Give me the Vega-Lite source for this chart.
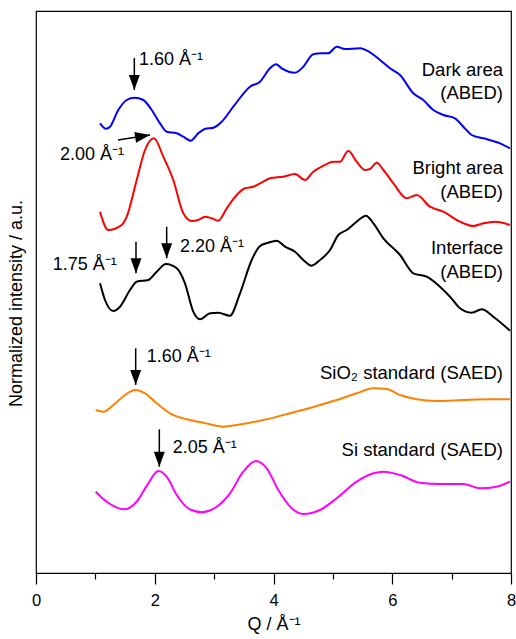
{
  "$schema": "https://vega.github.io/schema/vega-lite/v6.json",
  "width": 475,
  "height": 562,
  "autosize": "none",
  "padding": {"left": 36, "top": 11, "right": 5, "bottom": 66},
  "background": "white",
  "config": {
    "font": "Liberation Sans",
    "view": {"stroke": "black", "strokeWidth": 1.2},
    "axis": {"labelFont": "Liberation Sans", "titleFont": "Liberation Sans", "labelColor": "black", "titleColor": "black", "titleFontWeight": "normal"}
  },
  "datasets": {
    "curves": [
      {"s": "dark", "q": 1.078, "v": 449.7}, {"s": "dark", "q": 1.179, "v": 444.3}, {"s": "dark", "q": 1.246, "v": 446.3}, {"s": "dark", "q": 1.386, "v": 463}, {"s": "dark", "q": 1.528, "v": 473}, {"s": "dark", "q": 1.656, "v": 475.3}, {"s": "dark", "q": 1.807, "v": 473}, {"s": "dark", "q": 1.949, "v": 463}, {"s": "dark", "q": 2.088, "v": 449.7}, {"s": "dark", "q": 2.201, "v": 441.3}, {"s": "dark", "q": 2.37, "v": 439.7}, {"s": "dark", "q": 2.481, "v": 436.3}, {"s": "dark", "q": 2.605, "v": 432.3}, {"s": "dark", "q": 2.733, "v": 439.7}, {"s": "dark", "q": 2.846, "v": 444}, {"s": "dark", "q": 2.986, "v": 445.3}, {"s": "dark", "q": 3.128, "v": 451.3}, {"s": "dark", "q": 3.323, "v": 466.3}, {"s": "dark", "q": 3.604, "v": 486.3}, {"s": "dark", "q": 3.773, "v": 491.3}, {"s": "dark", "q": 3.941, "v": 504.7}, {"s": "dark", "q": 4.042, "v": 508.7}, {"s": "dark", "q": 4.138, "v": 504.7}, {"s": "dark", "q": 4.362, "v": 500.3}, {"s": "dark", "q": 4.502, "v": 506.3}, {"s": "dark", "q": 4.67, "v": 518.7}, {"s": "dark", "q": 4.812, "v": 519.7}, {"s": "dark", "q": 4.923, "v": 519.7}, {"s": "dark", "q": 5.064, "v": 526.3}, {"s": "dark", "q": 5.204, "v": 524}, {"s": "dark", "q": 5.457, "v": 524.7}, {"s": "dark", "q": 5.625, "v": 520.7}, {"s": "dark", "q": 5.794, "v": 513}, {"s": "dark", "q": 5.962, "v": 504.7}, {"s": "dark", "q": 6.131, "v": 498}, {"s": "dark", "q": 6.355, "v": 479.7}, {"s": "dark", "q": 6.523, "v": 473}, {"s": "dark", "q": 6.691, "v": 463}, {"s": "dark", "q": 6.86, "v": 458}, {"s": "dark", "q": 7.057, "v": 454.7}, {"s": "dark", "q": 7.197, "v": 446.3}, {"s": "dark", "q": 7.338, "v": 438}, {"s": "dark", "q": 7.534, "v": 434.7}, {"s": "dark", "q": 7.815, "v": 429.7}, {"s": "dark", "q": 7.983, "v": 424.7},
      {"s": "bright", "q": 1.078, "v": 361.3}, {"s": "bright", "q": 1.218, "v": 343}, {"s": "bright", "q": 1.443, "v": 348}, {"s": "bright", "q": 1.528, "v": 356.3}, {"s": "bright", "q": 1.696, "v": 393}, {"s": "bright", "q": 1.836, "v": 423}, {"s": "bright", "q": 1.987, "v": 434.7}, {"s": "bright", "q": 2.144, "v": 416.3}, {"s": "bright", "q": 2.312, "v": 393}, {"s": "bright", "q": 2.481, "v": 359.7}, {"s": "bright", "q": 2.622, "v": 352}, {"s": "bright", "q": 2.733, "v": 353}, {"s": "bright", "q": 2.846, "v": 356.3}, {"s": "bright", "q": 2.959, "v": 354.7}, {"s": "bright", "q": 3.07, "v": 352.3}, {"s": "bright", "q": 3.212, "v": 364.7}, {"s": "bright", "q": 3.38, "v": 378}, {"s": "bright", "q": 3.52, "v": 384.7}, {"s": "bright", "q": 3.66, "v": 386.3}, {"s": "bright", "q": 3.828, "v": 391.3}, {"s": "bright", "q": 3.941, "v": 394.7}, {"s": "bright", "q": 4.165, "v": 396.3}, {"s": "bright", "q": 4.362, "v": 399}, {"s": "bright", "q": 4.531, "v": 393}, {"s": "bright", "q": 4.67, "v": 401.3}, {"s": "bright", "q": 4.839, "v": 407.3}, {"s": "bright", "q": 5.007, "v": 411.3}, {"s": "bright", "q": 5.12, "v": 411.3}, {"s": "bright", "q": 5.26, "v": 422.3}, {"s": "bright", "q": 5.401, "v": 411.3}, {"s": "bright", "q": 5.541, "v": 403}, {"s": "bright", "q": 5.625, "v": 404}, {"s": "bright", "q": 5.738, "v": 410.3}, {"s": "bright", "q": 5.851, "v": 403}, {"s": "bright", "q": 6.019, "v": 389.7}, {"s": "bright", "q": 6.243, "v": 374.7}, {"s": "bright", "q": 6.412, "v": 378}, {"s": "bright", "q": 6.636, "v": 366.3}, {"s": "bright", "q": 6.86, "v": 361.3}, {"s": "bright", "q": 7.141, "v": 351.3}, {"s": "bright", "q": 7.365, "v": 347}, {"s": "bright", "q": 7.534, "v": 349.7}, {"s": "bright", "q": 7.731, "v": 351.3}, {"s": "bright", "q": 7.983, "v": 348},
      {"s": "interface", "q": 1.078, "v": 289.7}, {"s": "interface", "q": 1.162, "v": 273}, {"s": "interface", "q": 1.302, "v": 262}, {"s": "interface", "q": 1.415, "v": 266.3}, {"s": "interface", "q": 1.583, "v": 283}, {"s": "interface", "q": 1.696, "v": 291.3}, {"s": "interface", "q": 1.891, "v": 293}, {"s": "interface", "q": 2.033, "v": 301.3}, {"s": "interface", "q": 2.189, "v": 309}, {"s": "interface", "q": 2.37, "v": 304.7}, {"s": "interface", "q": 2.509, "v": 289.7}, {"s": "interface", "q": 2.649, "v": 261.3}, {"s": "interface", "q": 2.762, "v": 253.7}, {"s": "interface", "q": 2.931, "v": 259.7}, {"s": "interface", "q": 3.07, "v": 260.3}, {"s": "interface", "q": 3.267, "v": 257.3}, {"s": "interface", "q": 3.436, "v": 279.7}, {"s": "interface", "q": 3.633, "v": 313}, {"s": "interface", "q": 3.773, "v": 327}, {"s": "interface", "q": 3.912, "v": 330.3}, {"s": "interface", "q": 4.054, "v": 332.3}, {"s": "interface", "q": 4.194, "v": 326.3}, {"s": "interface", "q": 4.362, "v": 321.3}, {"s": "interface", "q": 4.502, "v": 313}, {"s": "interface", "q": 4.643, "v": 307.3}, {"s": "interface", "q": 4.783, "v": 313}, {"s": "interface", "q": 4.952, "v": 323}, {"s": "interface", "q": 5.091, "v": 338}, {"s": "interface", "q": 5.233, "v": 343}, {"s": "interface", "q": 5.401, "v": 351.3}, {"s": "interface", "q": 5.558, "v": 357.3}, {"s": "interface", "q": 5.682, "v": 349.7}, {"s": "interface", "q": 5.851, "v": 334.7}, {"s": "interface", "q": 6.131, "v": 318}, {"s": "interface", "q": 6.355, "v": 299.7}, {"s": "interface", "q": 6.58, "v": 296.3}, {"s": "interface", "q": 6.804, "v": 286.3}, {"s": "interface", "q": 6.973, "v": 276.3}, {"s": "interface", "q": 7.141, "v": 264.7}, {"s": "interface", "q": 7.338, "v": 260.3}, {"s": "interface", "q": 7.507, "v": 263.7}, {"s": "interface", "q": 7.702, "v": 256.3}, {"s": "interface", "q": 7.983, "v": 242.3},
      {"s": "sio2", "q": 1.005, "v": 163}, {"s": "sio2", "q": 1.133, "v": 161.3}, {"s": "sio2", "q": 1.302, "v": 168}, {"s": "sio2", "q": 1.499, "v": 178}, {"s": "sio2", "q": 1.667, "v": 183}, {"s": "sio2", "q": 1.836, "v": 179.7}, {"s": "sio2", "q": 2.033, "v": 169.7}, {"s": "sio2", "q": 2.257, "v": 159.7}, {"s": "sio2", "q": 2.538, "v": 153.7}, {"s": "sio2", "q": 2.818, "v": 150.3}, {"s": "sio2", "q": 3.155, "v": 146.3}, {"s": "sio2", "q": 3.38, "v": 148}, {"s": "sio2", "q": 3.828, "v": 153}, {"s": "sio2", "q": 4.278, "v": 159.7}, {"s": "sio2", "q": 4.728, "v": 167}, {"s": "sio2", "q": 5.064, "v": 173}, {"s": "sio2", "q": 5.401, "v": 179.7}, {"s": "sio2", "q": 5.681, "v": 184.7}, {"s": "sio2", "q": 5.907, "v": 184}, {"s": "sio2", "q": 6.131, "v": 178}, {"s": "sio2", "q": 6.412, "v": 173.7}, {"s": "sio2", "q": 6.749, "v": 172}, {"s": "sio2", "q": 7.197, "v": 173}, {"s": "sio2", "q": 7.646, "v": 173.7}, {"s": "sio2", "q": 7.983, "v": 173.7},
      {"s": "si", "q": 1.005, "v": 81.3}, {"s": "si", "q": 1.191, "v": 71.3}, {"s": "si", "q": 1.499, "v": 63.7}, {"s": "si", "q": 1.696, "v": 71.3}, {"s": "si", "q": 1.891, "v": 89.7}, {"s": "si", "q": 2.06, "v": 102}, {"s": "si", "q": 2.201, "v": 96.3}, {"s": "si", "q": 2.37, "v": 78}, {"s": "si", "q": 2.565, "v": 64.7}, {"s": "si", "q": 2.791, "v": 60.7}, {"s": "si", "q": 3.043, "v": 66.3}, {"s": "si", "q": 3.267, "v": 79.7}, {"s": "si", "q": 3.491, "v": 101.3}, {"s": "si", "q": 3.705, "v": 112}, {"s": "si", "q": 3.885, "v": 104.7}, {"s": "si", "q": 4.081, "v": 83}, {"s": "si", "q": 4.307, "v": 64.7}, {"s": "si", "q": 4.502, "v": 59}, {"s": "si", "q": 4.783, "v": 63}, {"s": "si", "q": 5.064, "v": 74.7}, {"s": "si", "q": 5.401, "v": 91.3}, {"s": "si", "q": 5.681, "v": 99.7}, {"s": "si", "q": 5.851, "v": 101.3}, {"s": "si", "q": 6.131, "v": 98}, {"s": "si", "q": 6.467, "v": 90.3}, {"s": "si", "q": 6.804, "v": 89}, {"s": "si", "q": 7.197, "v": 89}, {"s": "si", "q": 7.478, "v": 84.7}, {"s": "si", "q": 7.759, "v": 86.3}, {"s": "si", "q": 7.983, "v": 91.3}
    ],
    "arrows": [
      {"q": 1.656, "v": 515, "q2": 1.656, "v2": 483, "ang": 90},
      {"q": 1.381, "v": 433, "q2": 1.92, "v2": 438, "ang": -9},
      {"q": 1.684, "v": 331.3, "q2": 1.684, "v2": 299.7, "ang": 90},
      {"q": 2.201, "v": 346.3, "q2": 2.201, "v2": 314.7, "ang": 90},
      {"q": 1.679, "v": 224.7, "q2": 1.679, "v2": 188, "ang": 90},
      {"q": 2.077, "v": 143.7, "q2": 2.077, "v2": 106.3, "ang": 90}
    ],
    "peaklabels": [
      {"q": 1.734, "v": 513, "t": "1.60 Å⁻¹"},
      {"q": 0.404, "v": 418, "t": "2.00 Å⁻¹"},
      {"q": 0.281, "v": 308, "t": "1.75 Å⁻¹"},
      {"q": 2.425, "v": 326.3, "t": "2.20 Å⁻¹"},
      {"q": 1.864, "v": 216.3, "t": "1.60 Å⁻¹"},
      {"q": 2.302, "v": 125, "t": "2.05 Å⁻¹"}
    ],
    "curvelabels": [
      {"q": 7.865, "v": 503, "t": "Dark area"},
      {"q": 7.865, "v": 480, "t": "(ABED)"},
      {"q": 7.865, "v": 404.7, "t": "Bright area"},
      {"q": 7.865, "v": 381.3, "t": "(ABED)"},
      {"q": 7.865, "v": 324.7, "t": "Interface"},
      {"q": 7.865, "v": 301.3, "t": "(ABED)"},
      {"q": 7.865, "v": 199.7, "t": "SiO₂ standard (SAED)"},
      {"q": 7.865, "v": 123, "t": "Si standard (SAED)"}
    ]
  },
  "layer": [
    {
      "data": {"name": "curves"},
      "mark": {"type": "line", "interpolate": "monotone", "strokeWidth": 2},
      "encoding": {
        "x": {"field": "q", "type": "quantitative", "scale": {"domain": [0, 8], "nice": false},
          "axis": {"title": "Q / Å⁻¹", "values": [0, 1, 2, 3, 4, 5, 6, 7, 8], "format": "d", "labelExpr": "datum.value % 2 === 0 ? datum.label : ''",
            "tickSize": {"condition": {"test": "datum.value % 2 === 1", "value": 6}, "value": 11},
            "tickColor": "black", "tickWidth": 1.2, "domain": false, "grid": false, "labelFontSize": 16.5, "labelPadding": 8, "titleFontSize": 18, "titlePadding": 7, "labelFlush": false, "labelOverlap": false}},
        "y": {"field": "v", "type": "quantitative", "scale": {"domain": [0, 562], "nice": false},
          "axis": {"title": "Normalized intensity / a.u.", "ticks": false, "labels": false, "domain": false, "grid": false, "titleFontSize": 18, "titlePadding": 11, "titleY": 292}},
        "color": {"field": "s", "type": "nominal", "legend": null,
          "scale": {"domain": ["dark", "bright", "interface", "sio2", "si"], "range": ["#0000ff", "#ff0000", "#000000", "#ff8000", "#ff00ff"]}},
        "detail": {"field": "s"}
      }
    },
    {
      "data": {"name": "arrows"},
      "mark": {"type": "rule", "color": "black", "strokeWidth": 1.5},
      "encoding": {
        "x": {"field": "q", "type": "quantitative"},
        "y": {"field": "v", "type": "quantitative"},
        "x2": {"field": "q2"},
        "y2": {"field": "v2"}
      }
    },
    {
      "data": {"name": "arrows"},
      "mark": {"type": "point", "filled": true, "color": "black", "opacity": 1, "size": 225, "shape": "M0,0 L-2,-0.73 L-2,0.73 Z"},
      "encoding": {
        "x": {"field": "q2", "type": "quantitative"},
        "y": {"field": "v2", "type": "quantitative"},
        "angle": {"field": "ang", "type": "quantitative", "scale": null}
      }
    },
    {
      "data": {"name": "peaklabels"},
      "mark": {"type": "text", "fontSize": 18, "baseline": "middle", "align": "left", "color": "black", "font": "Liberation Sans"},
      "encoding": {
        "x": {"field": "q", "type": "quantitative"},
        "y": {"field": "v", "type": "quantitative"},
        "text": {"field": "t"}
      }
    },
    {
      "data": {"name": "curvelabels"},
      "mark": {"type": "text", "fontSize": 18.5, "baseline": "middle", "align": "right", "color": "black", "font": "Liberation Sans"},
      "encoding": {
        "x": {"field": "q", "type": "quantitative"},
        "y": {"field": "v", "type": "quantitative"},
        "text": {"field": "t"}
      }
    }
  ]
}
